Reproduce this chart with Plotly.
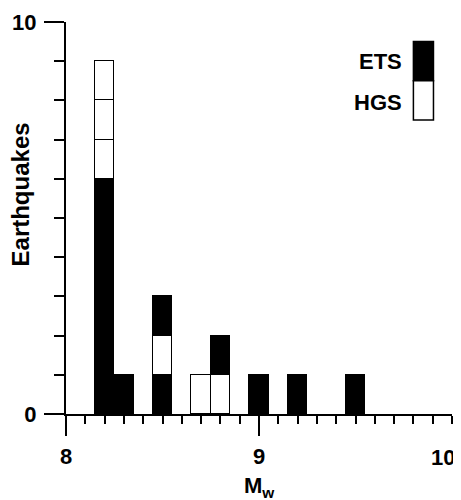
import plotly.graph_objects as go

# Magnitude bins (Mw, bin centres, width 0.1)
mw_bins = [8.2, 8.3, 8.5, 8.7, 8.8, 9.0, 9.2, 9.5]
# Counts stacked from the bottom: ETS (lower), HGS, ETS (upper)
ets_lower = [6, 1, 1, 0, 0, 1, 1, 1]
hgs_count = [3, 0, 1, 1, 1, 0, 0, 0]
ets_upper = [0, 0, 1, 0, 1, 0, 0, 0]

x_tickvals = [8, 9, 10]
x_ticktext = ["8", "9", "10"]
y_tickvals = [0, 10]
y_ticktext = ["0", "10"]

BIN_W = 0.1
FONT = dict(family="Liberation Sans, Arial, sans-serif", size=22, color="black", weight="bold")

fig = go.Figure()

layers = [("ETS", ets_lower, "black"), ("HGS", hgs_count, "white"), ("ETS", ets_upper, "black")]
for name, counts, color in layers:
    for k in range(max(counts)):
        ys = [1 if c > k else None for c in counts]
        fig.add_trace(go.Bar(
            x=mw_bins, y=ys, width=BIN_W, name=name, showlegend=False,
            marker=dict(color=color, line=dict(color="black", width=1.5)),
        ))

# Manual legend (label to the left of the swatch)
leg_x0, leg_x1 = 9.80, 9.904
fig.add_shape(type="rect", x0=leg_x0, x1=leg_x1, y0=8.5, y1=9.5, xref="x", yref="y",
              fillcolor="black", line=dict(color="black", width=1.5))
fig.add_shape(type="rect", x0=leg_x0, x1=leg_x1, y0=7.5, y1=8.5, xref="x", yref="y",
              fillcolor="white", line=dict(color="black", width=1.5))
fig.add_annotation(x=leg_x0, y=9.0, xref="x", yref="y", text="ETS", showarrow=False,
                   xanchor="right", xshift=-9, font=FONT)
fig.add_annotation(x=leg_x0, y=7.95, xref="x", yref="y", text="HGS", showarrow=False,
                   xanchor="right", xshift=-9, font=FONT)

# Medium ticks at 8.5 and 9.5, and the end tick at 10 (x axis)
for v, ln in [(8.5, 12), (9.5, 12), (10, 20)]:
    fig.add_shape(type="line", x0=v, x1=v, xref="x", yref="y", ysizemode="pixel",
                  yanchor=0, y0=0, y1=-ln, line=dict(color="black", width=1.5))
# Unlabelled mid tick at 5 (y axis)
fig.add_shape(type="line", y0=5, y1=5, xref="x", yref="y", xsizemode="pixel",
              xanchor=8, x0=0, x1=-18, line=dict(color="black", width=1.5))

# Last x tick label, nudged left so it stays inside the page
fig.add_annotation(x=x_tickvals[-1], y=0, xref="x", yref="paper", text=x_ticktext[-1],
                   showarrow=False, xanchor="center", yanchor="middle",
                   xshift=-9, yshift=-43, font=FONT)

# Axis titles as annotations
fig.add_annotation(x=0, y=5.6, xref="paper", yref="y", text="Earthquakes", textangle=-90,
                   showarrow=False, xanchor="center", xshift=-46,
                   font=dict(FONT, size=24))
fig.add_annotation(x=0.5, y=0, xref="paper", yref="paper", text="M<sub>w</sub>",
                   showarrow=False, yanchor="middle", yshift=-73, font=FONT)

# The page body adds an 8px offset, so the figure is sized to fit 461x500 after it
fig.update_layout(
    barmode="stack",
    width=453, height=492,
    margin=dict(l=58, r=9, t=14, b=86, autoexpand=False),
    paper_bgcolor="white", plot_bgcolor="white",
    bargap=0,
    font=FONT,
    xaxis=dict(
        range=[8, 10], showgrid=False, zeroline=False, automargin=False,
        showline=True, linecolor="black", linewidth=2,
        tickvals=x_tickvals[:-1], ticktext=x_ticktext[:-1],
        ticks="outside", ticklen=20, tickwidth=1.5, tickcolor="black",
        ticklabelstandoff=2,
        minor=dict(dtick=0.1, ticks="outside", ticklen=8, tickwidth=1.5, tickcolor="black"),
    ),
    yaxis=dict(
        range=[0, 10], showgrid=False, zeroline=False, automargin=False,
        showline=True, linecolor="black", linewidth=2,
        tickvals=y_tickvals, ticktext=y_ticktext,
        ticks="outside", ticklen=20, tickwidth=1.5, tickcolor="black",
        ticklabelstandoff=3,
        minor=dict(dtick=1, ticks="outside", ticklen=10, tickwidth=1.5, tickcolor="black"),
    ),
)

fig.write_html("out.html")
